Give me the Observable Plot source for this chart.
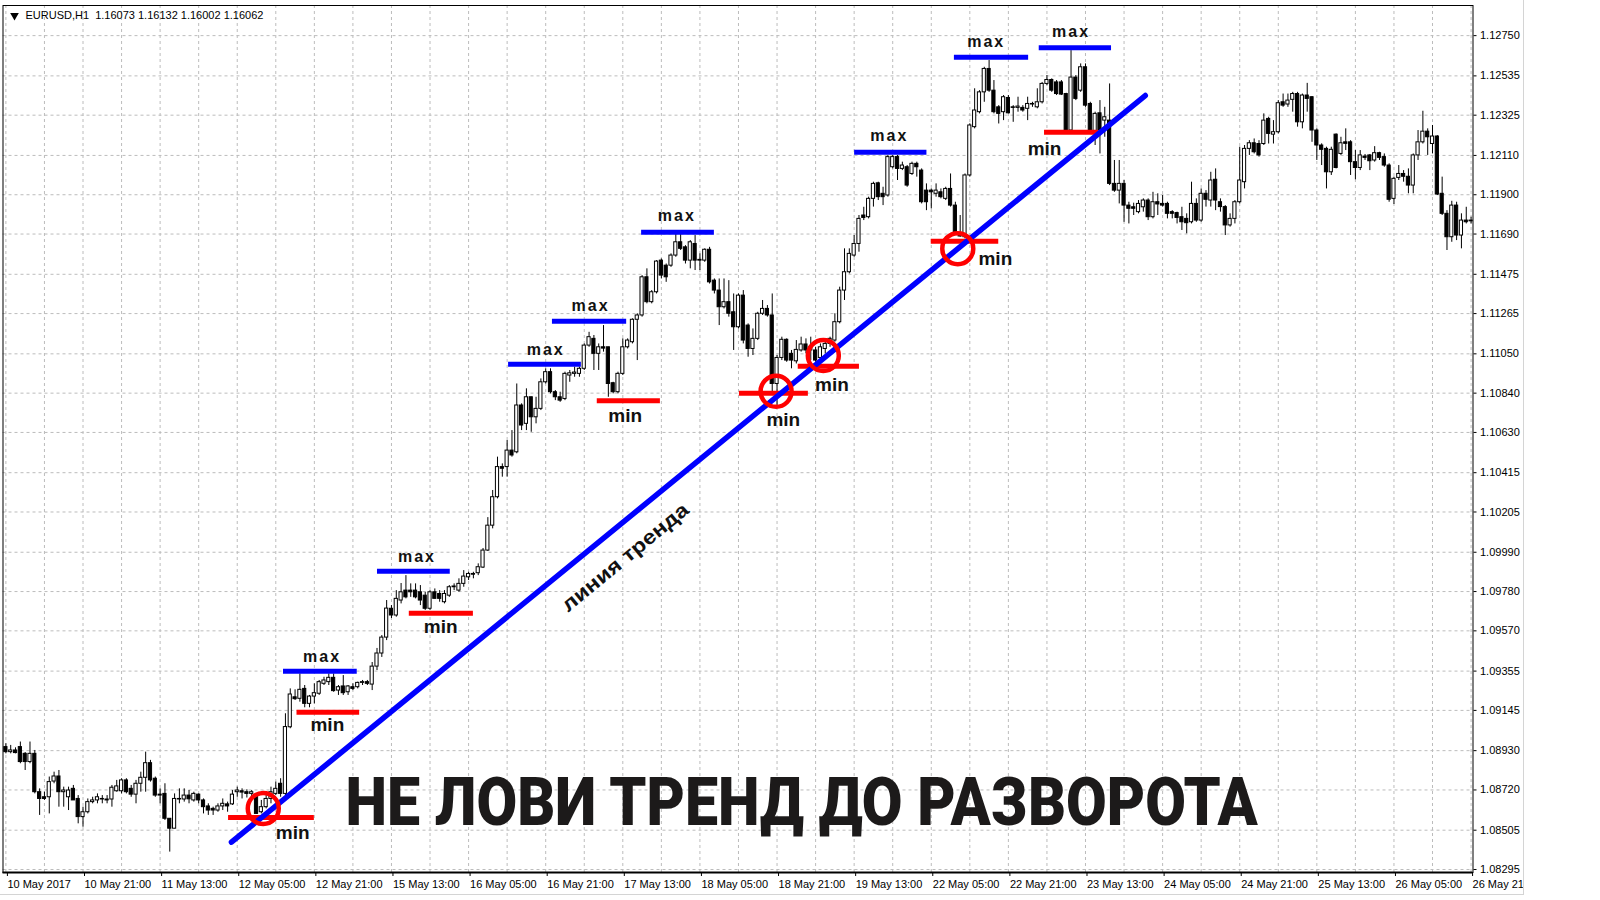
<!DOCTYPE html>
<html>
<head>
<meta charset="utf-8">
<script src="https://cdn.jsdelivr.net/npm/d3@7"></script>
<script src="https://cdn.jsdelivr.net/npm/@observablehq/plot@0.6"></script>
<style>
  html, body { margin: 0; padding: 0; background: #fff; }
  #wrap { position: absolute; left: 0; top: 0; width: 1523px; height: 894px;
          border-right: 1px solid #d4d4d4; border-bottom: 1px solid #d4d4d4; overflow: hidden; }
  #wrap svg { overflow: hidden; display: block; }
</style>
</head>
<body>
<div id="wrap"></div>
<script>
// ---------------- DATA (EURUSD H1, 10 May 2017 05:00 ... 26 May 2017 21:00) ----------------
const open = [
1.08949,1.08922,1.08931,1.08949,1.08913,1.08869,1.08913,1.08708,1.08681,1.08681,
1.08765,1.08792,1.08708,1.08681,1.08726,1.08672,1.08575,1.08601,1.08655,1.08664,
1.08672,1.08669,1.08669,1.08713,1.08713,1.08771,1.08726,1.08695,1.08753,1.08785,
1.08863,1.08780,1.08695,1.08699,1.08566,1.08513,1.08672,1.08669,1.08690,1.08664,
1.08695,1.08664,1.08632,1.08619,1.08610,1.08632,1.08643,1.08643,1.08708,1.08713,
1.08708,1.08699,1.08690,1.08601,1.08628,1.08672,1.08699,1.08753,1.08699,1.09055,
1.09215,1.09207,1.09260,1.09180,1.09219,1.09234,1.09287,1.09296,1.09319,1.09251,
1.09273,1.09242,1.09269,1.09269,1.09292,1.09296,1.09283,1.09379,1.09449,1.09534,
1.09688,1.09652,1.09732,1.09785,1.09785,1.09785,1.09776,1.09758,1.09688,1.09776,
1.09767,1.09723,1.09758,1.09803,1.09785,1.09821,1.09856,1.09874,1.09878,1.09908,
1.09999,1.10132,1.10284,1.10445,1.10445,1.10533,1.10524,1.10774,1.10676,1.10818,
1.10711,1.10756,1.10898,1.10952,1.10845,1.10818,1.10809,1.10934,1.10943,1.10943,
1.10970,1.11094,1.11130,1.11050,1.11085,1.11085,1.10893,1.10845,1.10943,1.11085,
1.11112,1.11232,1.11255,1.11459,1.11326,1.11379,1.11548,1.11521,1.11521,1.11575,
1.11646,1.11619,1.11548,1.11637,1.11552,1.11548,1.11606,1.11441,1.11388,1.11299,
1.11326,1.11272,1.11192,1.11361,1.11201,1.11076,1.11130,1.11264,1.11290,1.11255,
1.10889,1.11028,1.11125,1.11050,1.11010,1.11068,1.11100,1.11068,1.11068,1.11028,
1.11076,1.11103,1.11121,1.11219,1.11388,1.11486,1.11575,1.11637,1.11789,1.11780,
1.11878,1.11961,1.11905,1.11896,1.12047,1.12101,1.12038,1.12047,1.12011,1.12065,
1.12029,1.11922,1.11922,1.11905,1.11913,1.11878,1.11931,1.11842,1.11691,1.11673,
1.12003,1.12261,1.12341,1.12447,1.12572,1.12456,1.12367,1.12341,1.12417,1.12367,
1.12364,1.12364,1.12359,1.12385,1.12367,1.12394,1.12492,1.12513,1.12500,1.12500,
1.12438,1.12243,1.12526,1.12456,1.12581,1.12385,1.12225,1.12335,1.12296,1.12296,
1.11958,1.11922,1.11958,1.11842,1.11833,1.11807,1.11833,1.11869,1.11780,1.11860,
1.11851,1.11851,1.11807,1.11802,1.11780,1.11771,1.11753,1.11851,1.11762,1.11905,
1.11869,1.11980,1.11860,1.11834,1.11736,1.11771,1.11860,1.11967,1.12145,1.12175,
1.12171,1.12171,1.12305,1.12221,1.12234,1.12394,1.12382,1.12407,1.12438,1.12287,
1.12430,1.12421,1.12243,1.12163,1.12145,1.12020,1.12221,1.12118,1.12180,1.12180,
1.12074,1.12043,1.12104,1.12110,1.12083,1.12122,1.12101,1.12056,1.11878,1.11990,
1.12011,1.11996,1.11949,1.12110,1.12180,1.12237,1.12171,1.12211,1.11905,1.11798,
1.11673,1.11842,1.11682,1.11762,1.11762];

const high = [
1.08967,1.08958,1.08945,1.08976,1.08920,1.08976,1.08931,1.08726,1.08708,1.08789,
1.08815,1.08824,1.08735,1.08735,1.08744,1.08690,1.08628,1.08672,1.08681,1.08699,
1.08690,1.08690,1.08744,1.08771,1.08780,1.08780,1.08744,1.08771,1.08815,1.08922,
1.08878,1.08789,1.08726,1.08753,1.08566,1.08699,1.08726,1.08726,1.08717,1.08708,
1.08699,1.08672,1.08646,1.08628,1.08646,1.08672,1.08655,1.08717,1.08735,1.08726,
1.08721,1.08717,1.08699,1.08664,1.08699,1.08735,1.08762,1.08780,1.09127,1.09260,
1.09255,1.09340,1.09278,1.09225,1.09287,1.09305,1.09322,1.09340,1.09340,1.09278,
1.09331,1.09278,1.09287,1.09296,1.09305,1.09305,1.09401,1.09476,1.09545,1.09732,
1.09705,1.09785,1.09823,1.09865,1.09821,1.09821,1.09812,1.09776,1.09785,1.09794,
1.09785,1.09785,1.09812,1.09821,1.09848,1.09892,1.09883,1.09883,1.09928,1.10010,
1.10175,1.10320,1.10498,1.10462,1.10587,1.10640,1.10889,1.10783,1.10863,1.10818,
1.10818,1.10916,1.10970,1.10970,1.10854,1.10845,1.10952,1.10961,1.10979,1.10979,
1.11103,1.11165,1.11148,1.11103,1.11201,1.11085,1.10898,1.10952,1.11130,1.11130,
1.11237,1.11264,1.11468,1.11504,1.11388,1.11548,1.11557,1.11530,1.11584,1.11691,
1.11691,1.11628,1.11655,1.11682,1.11584,1.11611,1.11619,1.11450,1.11450,1.11450,
1.11441,1.11370,1.11370,1.11388,1.11210,1.11183,1.11272,1.11335,1.11308,1.11370,
1.11041,1.11139,1.11130,1.11068,1.11121,1.11139,1.11130,1.11139,1.11085,1.11103,
1.11121,1.11139,1.11264,1.11406,1.11611,1.11611,1.11682,1.11789,1.11833,1.11887,
1.11967,1.11967,1.11940,1.12110,1.12110,1.12110,1.12074,1.12056,1.12074,1.12074,
1.12038,1.11958,1.11931,1.11958,1.11931,1.11940,1.12011,1.11860,1.11789,1.12011,
1.12279,1.12466,1.12456,1.12581,1.12617,1.12510,1.12376,1.12430,1.12430,1.12376,
1.12421,1.12376,1.12421,1.12394,1.12466,1.12500,1.12537,1.12519,1.12510,1.12510,
1.12442,1.12670,1.12537,1.12599,1.12599,1.12394,1.12341,1.12403,1.12367,1.12492,
1.12083,1.12083,1.11976,1.11860,1.11855,1.11869,1.11878,1.11878,1.11913,1.11905,
1.11896,1.11860,1.11815,1.11807,1.11833,1.11798,1.11967,1.11878,1.11931,1.11922,
1.12020,1.12038,1.11878,1.11842,1.11798,1.11869,1.12154,1.12163,1.12189,1.12198,
1.12189,1.12332,1.12314,1.12296,1.12403,1.12438,1.12438,1.12447,1.12447,1.12438,
1.12495,1.12424,1.12252,1.12172,1.12154,1.12154,1.12225,1.12207,1.12252,1.12189,
1.12136,1.12136,1.12115,1.12115,1.12157,1.12127,1.12118,1.12065,1.11994,1.12056,
1.12029,1.12038,1.12118,1.12243,1.12346,1.12252,1.12270,1.12216,1.11994,1.11815,
1.11865,1.11860,1.11798,1.11833,1.11780];

const low = [
1.08913,1.08913,1.08913,1.08860,1.08824,1.08860,1.08699,1.08584,1.08664,1.08592,
1.08753,1.08628,1.08628,1.08610,1.08664,1.08539,1.08521,1.08592,1.08646,1.08646,
1.08646,1.08646,1.08628,1.08708,1.08699,1.08699,1.08681,1.08646,1.08708,1.08708,
1.08762,1.08681,1.08646,1.08557,1.08388,1.08513,1.08646,1.08655,1.08646,1.08655,
1.08646,1.08592,1.08584,1.08584,1.08601,1.08610,1.08601,1.08637,1.08681,1.08672,
1.08677,1.08672,1.08592,1.08592,1.08619,1.08646,1.08690,1.08681,1.08690,1.09047,
1.09198,1.09189,1.09159,1.09159,1.09180,1.09225,1.09278,1.09278,1.09242,1.09225,
1.09225,1.09225,1.09251,1.09260,1.09278,1.09278,1.09251,1.09358,1.09428,1.09518,
1.09636,1.09643,1.09714,1.09741,1.09749,1.09741,1.09705,1.09679,1.09679,1.09741,
1.09723,1.09714,1.09749,1.09785,1.09776,1.09803,1.09839,1.09848,1.09865,1.09903,
1.09994,1.10115,1.10275,1.10391,1.10391,1.10498,1.10516,1.10640,1.10640,1.10631,
1.10676,1.10747,1.10889,1.10836,1.10800,1.10791,1.10800,1.10898,1.10925,1.10925,
1.10961,1.11085,1.10961,1.10961,1.11059,1.10818,1.10836,1.10836,1.10934,1.11076,
1.11103,1.11014,1.11246,1.11317,1.11317,1.11370,1.11450,1.11432,1.11512,1.11566,
1.11602,1.11530,1.11504,1.11495,1.11495,1.11539,1.11423,1.11370,1.11201,1.11290,
1.11246,1.11068,1.11183,1.11103,1.11032,1.11041,1.11121,1.11255,1.11246,1.10836,
1.10765,1.11014,1.11005,1.10970,1.10996,1.11059,1.11050,1.11014,1.11005,1.11014,
1.11050,1.11085,1.11112,1.11210,1.11335,1.11477,1.11566,1.11593,1.11762,1.11771,
1.11834,1.11869,1.11842,1.11887,1.12038,1.11976,1.12029,1.11940,1.12003,1.11994,
1.11851,1.11815,1.11824,1.11887,1.11878,1.11869,1.11834,1.11682,1.11673,1.11664,
1.11994,1.12252,1.12332,1.12394,1.12447,1.12332,1.12278,1.12296,1.12332,1.12287,
1.12341,1.12341,1.12296,1.12367,1.12359,1.12385,1.12483,1.12447,1.12430,1.12430,
1.12234,1.12234,1.12403,1.12447,1.12367,1.12225,1.12163,1.12118,1.12207,1.11949,
1.11913,1.11851,1.11753,1.11744,1.11789,1.11798,1.11807,1.11762,1.11771,1.11789,
1.11834,1.11771,1.11771,1.11744,1.11709,1.11691,1.11744,1.11753,1.11753,1.11834,
1.11834,1.11815,1.11807,1.11682,1.11727,1.11744,1.11851,1.11931,1.12110,1.12118,
1.12101,1.12163,1.12171,1.12171,1.12225,1.12367,1.12367,1.12341,1.12261,1.12252,
1.12341,1.12180,1.12083,1.12056,1.11931,1.12003,1.12038,1.12110,1.12136,1.12003,
1.11980,1.12029,1.12083,1.12029,1.12074,1.12083,1.12047,1.11860,1.11848,1.11976,
1.11967,1.11905,1.11905,1.12083,1.12171,1.12110,1.12118,1.11896,1.11789,1.11602,
1.11646,1.11655,1.11611,1.11744,1.11744];

const close = [
1.08922,1.08931,1.08917,1.08869,1.08869,1.08913,1.08708,1.08672,1.08672,1.08762,
1.08792,1.08708,1.08717,1.08717,1.08664,1.08575,1.08601,1.08655,1.08664,1.08681,
1.08669,1.08664,1.08732,1.08739,1.08771,1.08708,1.08695,1.08753,1.08785,1.08863,
1.08771,1.08690,1.08690,1.08566,1.08513,1.08672,1.08669,1.08690,1.08670,1.08699,
1.08664,1.08628,1.08610,1.08610,1.08632,1.08646,1.08632,1.08695,1.08717,1.08706,
1.08699,1.08708,1.08592,1.08628,1.08672,1.08708,1.08726,1.08699,1.09056,1.09230,
1.09205,1.09255,1.09180,1.09219,1.09237,1.09296,1.09305,1.09319,1.09248,1.09269,
1.09237,1.09273,1.09260,1.09292,1.09296,1.09287,1.09379,1.09449,1.09534,1.09689,
1.09652,1.09741,1.09776,1.09749,1.09776,1.09749,1.09732,1.09688,1.09776,1.09741,
1.09741,1.09767,1.09803,1.09807,1.09821,1.09860,1.09874,1.09870,1.09910,1.09999,
1.10132,1.10284,1.10445,1.10436,1.10533,1.10507,1.10774,1.10667,1.10818,1.10711,
1.10756,1.10898,1.10952,1.10845,1.10818,1.10800,1.10943,1.10946,1.10950,1.10970,
1.11094,1.11139,1.11050,1.11085,1.11078,1.10889,1.10845,1.10943,1.11085,1.11121,
1.11232,1.11255,1.11459,1.11326,1.11379,1.11543,1.11468,1.11459,1.11575,1.11646,
1.11611,1.11548,1.11646,1.11548,1.11548,1.11606,1.11432,1.11388,1.11299,1.11326,
1.11264,1.11192,1.11361,1.11121,1.11076,1.11130,1.11264,1.11290,1.11255,1.10889,
1.11028,1.11125,1.11014,1.11014,1.11071,1.11100,1.11068,1.11085,1.11014,1.11085,
1.11103,1.11130,1.11219,1.11388,1.11486,1.11584,1.11637,1.11771,1.11776,1.11878,
1.11958,1.11887,1.11887,1.12101,1.12101,1.12038,1.12056,1.11949,1.12065,1.12047,
1.11860,1.11860,1.11913,1.11922,1.11887,1.11931,1.11842,1.11691,1.11677,1.12003,
1.12270,1.12350,1.12447,1.12572,1.12456,1.12341,1.12332,1.12421,1.12335,1.12364,
1.12371,1.12350,1.12385,1.12382,1.12394,1.12492,1.12513,1.12456,1.12438,1.12435,
1.12243,1.12526,1.12412,1.12581,1.12376,1.12234,1.12332,1.12243,1.12314,1.11958,
1.11922,1.11958,1.11842,1.11825,1.11825,1.11851,1.11869,1.11780,1.11860,1.11848,
1.11842,1.11798,1.11798,1.11776,1.11753,1.11748,1.11851,1.11762,1.11905,1.11873,
1.11976,1.11869,1.11834,1.11736,1.11771,1.11860,1.11976,1.12145,1.12175,1.12127,
1.12110,1.12296,1.12225,1.12234,1.12389,1.12376,1.12403,1.12438,1.12287,1.12430,
1.12412,1.12243,1.12163,1.12140,1.12020,1.12140,1.12043,1.12175,1.12172,1.12074,
1.12043,1.12110,1.12097,1.12079,1.12122,1.12097,1.12056,1.11873,1.11985,1.12011,
1.11996,1.11949,1.12110,1.12180,1.12237,1.12207,1.12211,1.11901,1.11798,1.11673,
1.11842,1.11682,1.11762,1.11753,1.11758];

const xTickBars = [0,16,32,48,64,80,96,112,128,144,160,176,192,208,224,240,256,272,288,304];
const xLabels = ["10 May 2017","10 May 21:00","11 May 13:00","12 May 05:00","12 May 21:00",
  "15 May 13:00","16 May 05:00","16 May 21:00","17 May 13:00","18 May 05:00","18 May 21:00",
  "19 May 13:00","22 May 05:00","22 May 21:00","23 May 13:00","24 May 05:00","24 May 21:00",
  "25 May 13:00","26 May 05:00","26 May 21"];
const yTicks = [1.12750,1.12535,1.12325,1.12110,1.11900,1.11690,1.11475,1.11265,1.11050,1.10840,
  1.10630,1.10415,1.10205,1.09990,1.09780,1.09570,1.09355,1.09145,1.08930,1.08720,1.08505,1.08295];
const gridBars = [0,8,16,24,32,40,48,56,64,72,80,88,96,104,112,120,128,136,144,152,160,168,176,184,
  192,200,208,216,224,232,240,248,256,264,272,280,288,296,304];

// annotations (bar index / price)
const maxLines = [
  {from: 57.6, to: 72.9, price: 1.09354, li: 65.6, lp: 1.09433},
  {from: 77.1, to: 92.2, price: 1.09889, li: 85.3, lp: 1.09963},
  {from: 104.3, to: 119.4, price: 1.10994, li: 112.0, lp: 1.11073},
  {from: 113.4, to: 128.8, price: 1.11224, li: 121.3, lp: 1.11308},
  {from: 131.9, to: 147.0, price: 1.11700, li: 139.2, lp: 1.11787},
  {from: 176.1, to: 191.1, price: 1.12127, li: 183.3, lp: 1.12212},
  {from: 196.8, to: 212.2, price: 1.12634, li: 203.4, lp: 1.12714},
  {from: 214.4, to: 229.4, price: 1.12685, li: 221.0, lp: 1.12772}
];
const minLines = [
  {from: 46.2, to: 64.0, price: 1.08573, li: 59.5, lp: 1.08493},
  {from: 60.4, to: 73.4, price: 1.09135, li: 66.7, lp: 1.09070},
  {from: 83.7, to: 97.0, price: 1.09664, li: 90.2, lp: 1.09589},
  {from: 122.7, to: 135.8, price: 1.10800, li: 128.5, lp: 1.10720},
  {from: 152.2, to: 166.5, price: 1.10839, li: 161.3, lp: 1.10697},
  {from: 164.4, to: 177.1, price: 1.10984, li: 171.4, lp: 1.10882},
  {from: 192.0, to: 206.0, price: 1.11651, li: 205.3, lp: 1.11558},
  {from: 215.5, to: 226.7, price: 1.12234, li: 215.5, lp: 1.12147}
];
const circles = [
  {i: 53.4, price: 1.08621},
  {i: 159.8, price: 1.10850},
  {i: 169.6, price: 1.11041},
  {i: 197.5, price: 1.11612}
];
const trend = [{i: 46.8, price: 1.08441}, {i: 236.4, price: 1.12430}];
const trendLabel = {i: 128.5, price: 1.09963, text: "линия тренда"};
const title = {i: 165.1, price: 1.08645, text: "НЕ ЛОВИ ТРЕНД ДО РАЗВОРОТА"};
const header = "EURUSD,H1  1.16073 1.16132 1.16002 1.16062";

// ---------------- CHART ----------------
const n = Math.min(open.length, high.length, low.length, close.length);
const bars = d3.range(n).map(i => ({i, open: open[i], high: high[i], low: low[i], close: close[i]}));

const BLUE = "#0000ff", RED = "#ff0000", GRID = "#bcbcbc";
const chart = Plot.plot({
  width: 1523, height: 894,
  marginLeft: 2.5, marginRight: 50.5, marginTop: 5, marginBottom: 22,
  style: {fontFamily: "'Liberation Sans', Arial, sans-serif", fontSize: "11px", background: "white", color: "black"},
  x: {type: "linear", domain: [-0.6, 304.4], axis: null},
  y: {type: "linear", domain: [1.08279, 1.12911], axis: null},
  marks: [
    Plot.ruleY(yTicks, {stroke: GRID, strokeDasharray: "3,3"}),
    Plot.ruleX(gridBars, {stroke: GRID, strokeDasharray: "3,3"}),
    Plot.ruleX(bars, {x: "i", y1: "low", y2: "high", stroke: "black"}),
    Plot.rect(bars, {x1: d => d.i - 0.33, x2: d => d.i + 0.33, y1: "open", y2: "close",
      fill: d => d.close >= d.open ? "white" : "black", stroke: "black", strokeWidth: 1}),
    Plot.frame({stroke: "black"}),
    Plot.ruleY([1.08279], {stroke: "black", strokeWidth: 2}),
    Plot.axisY(yTicks, {anchor: "right", tickSize: 3, tickPadding: 4, tickFormat: d3.format(".5f"), fontSize: 11}),
    Plot.axisX(xTickBars, {anchor: "bottom", tickSize: 4, tickPadding: 4, textAnchor: "start", dx: 1.5,
      tickFormat: d => xLabels[xTickBars.indexOf(d)], fontSize: 11}),
    // header
    Plot.dot([0], {frameAnchor: "top-left", dx: 11.5, dy: 10, symbol: "triangle", rotate: 180, r: 3.2, fill: "black", stroke: "none"}),
    Plot.text([header], {frameAnchor: "top-left", dx: 22.5, dy: 6, textAnchor: "start", lineAnchor: "top", fontSize: 11, text: d => d}),
    // max / min levels
    Plot.ruleY(maxLines, {x1: "from", x2: "to", y: "price", stroke: BLUE, strokeWidth: 5}),
    Plot.ruleY(minLines, {x1: "from", x2: "to", y: "price", stroke: RED, strokeWidth: 5}),
    // trend line
    Plot.line(trend, {x: "i", y: "price", stroke: BLUE, strokeWidth: 5.5, strokeLinecap: "round"}),
    Plot.dot(circles, {x: "i", y: "price", r: 15.5, stroke: RED, strokeWidth: 4.5, fill: "none"}),
    Plot.text(maxLines, {x: "li", y: "lp", text: () => "max", fontSize: 16, fontWeight: "bold",
      fontFamily: "'Liberation Sans', Arial, sans-serif", fill: "#111"}),
    Plot.text(minLines, {x: "li", y: "lp", text: () => "min", fontSize: 19, fontWeight: "bold",
      fontFamily: "'Liberation Sans', Arial, sans-serif", fill: "#111"}),
    Plot.text([trendLabel], {x: "i", y: "price", text: "text", rotate: -39.5, fontSize: 20, fontWeight: "bold",
      fontFamily: "'Liberation Sans', Arial, sans-serif", fill: "#111"}),
    Plot.text([title], {x: "i", y: "price", text: "text", fontSize: 66, fontWeight: 900,
      fontFamily: "Roboto, 'Open Sans', 'DejaVu Sans', sans-serif", fill: "#1c1a1a"})
  ]
});

chart.querySelectorAll("text").forEach(t => {
  const s = t.textContent;
  if (s === title.text) { t.setAttribute("textLength", "912"); t.setAttribute("lengthAdjust", "spacingAndGlyphs"); }
  if (s === trendLabel.text) { t.setAttribute("textLength", "158"); t.setAttribute("lengthAdjust", "spacingAndGlyphs"); }
  if (s === "max") { t.setAttribute("letter-spacing", "2"); }
});
document.getElementById("wrap").appendChild(chart);
</script>
</body>
</html>
